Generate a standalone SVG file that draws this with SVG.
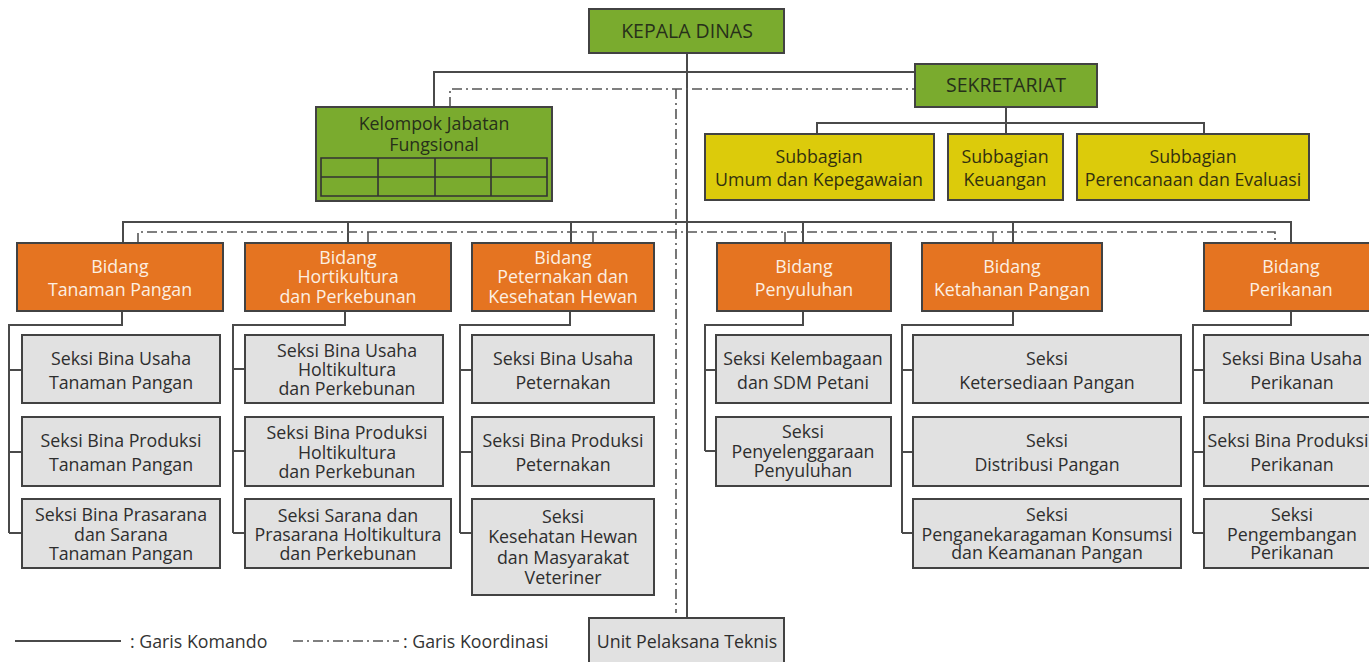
<svg xmlns="http://www.w3.org/2000/svg" width="1369" height="662" viewBox="0 0 1369 662">
<style>
.box{stroke:#424242;stroke-width:2}
.green{fill:#7aab2e}
.yellow{fill:#dccb0b}
.orange{fill:#e57421}
.gray{fill:#e1e1e1}
text{font-family:"Open Sans","Noto Sans","Liberation Sans",sans-serif;font-size:17.8px;text-anchor:middle}
.big{font-size:19.5px}
.td{fill:#27301a}
.ty{fill:#33310f}
.tw{fill:#fcefe2}
.tg{fill:#2e2e2e}
.ln{fill:none;stroke:#4a4a4a;stroke-width:2}
.dd{fill:none;stroke:#555;stroke-width:1.6;stroke-dasharray:10 4 2 4}
.tbl{fill:none;stroke:#333;stroke-width:1.6}
.lg{text-anchor:start;fill:#333}
</style>
<rect width="1369" height="662" fill="#ffffff"/>
<g id="connectors">
<path class="ln" d="M687 53V618M434 107V72H915M1006 107V123M817 134V123H1204V134M1006 123V134"/>
<path class="ln" d="M123 243V222H1291V243M348 222V243M571 222V243M803 222V243M1013 222V243"/>
<path class="ln" d="M122 311V325H9V533M9 370H22M9 452H22M9 533H22"/>
<path class="ln" d="M345 311V325H233V533M233 369H245M233 451H245M233 533H245"/>
<path class="ln" d="M570 311V325H460V533M460 370H472M460 452H472M460 533H472"/>
<path class="ln" d="M803 311V325H705V451M705 370H716M705 451H716"/>
<path class="ln" d="M1013 311V325H902V533M902 370H913M902 452H913M902 533H913"/>
<path class="ln" d="M1291 311V325H1193V533M1193 370H1204M1193 452H1204M1193 533H1204"/>
<path class="dd" d="M450 107V89H915"/>
<path class="dd" d="M676 89V613"/>
<path class="dd" d="M138 243V232H1275V243M368 232V243M593 232V243M785 232V243M993 232V243"/>
</g>
<g id="kepala-dinas"><rect class="box green" x="589" y="9" width="195" height="44"/><text class="td big" x="687" y="38">KEPALA DINAS</text></g>
<g id="sekretariat"><rect class="box green" x="915" y="64" width="182" height="43"/><text class="td big" x="1006" y="92">SEKRETARIAT</text></g>
<g id="kelompok-jabatan"><rect class="box green" x="316" y="107" width="236" height="94"/><text class="td" x="434" y="130">Kelompok Jabatan</text><text class="td" x="434" y="151">Fungsional</text>
<path class="tbl" d="M321 158H547V196H321ZM321 177H547M378 158V196M435 158V196M491 158V196"/></g>
<g id="sub-umum"><rect class="box yellow" x="705" y="134" width="229" height="66"/><text class="ty" x="819" y="163">Subbagian</text><text class="ty" x="819" y="186">Umum dan Kepegawaian</text></g>
<g id="sub-keuangan"><rect class="box yellow" x="948" y="134" width="115" height="66"/><text class="ty" x="1005" y="163">Subbagian</text><text class="ty" x="1005" y="186">Keuangan</text></g>
<g id="sub-perencanaan"><rect class="box yellow" x="1077" y="134" width="232" height="66"/><text class="ty" x="1193" y="163">Subbagian</text><text class="ty" x="1193" y="186">Perencanaan dan Evaluasi</text></g>
<g id="bidang-tanaman"><rect class="box orange" x="17" y="243" width="206" height="68"/><text class="tw" x="120" y="273">Bidang</text><text class="tw" x="120" y="296">Tanaman Pangan</text></g>
<g id="bidang-hortikultura"><rect class="box orange" x="245" y="243" width="206" height="68"/><text class="tw" x="348" y="264">Bidang</text><text class="tw" x="348" y="283">Hortikultura</text><text class="tw" x="348" y="303">dan Perkebunan</text></g>
<g id="bidang-peternakan"><rect class="box orange" x="472" y="243" width="182" height="68"/><text class="tw" x="563" y="264">Bidang</text><text class="tw" x="563" y="283">Peternakan dan</text><text class="tw" x="563" y="303">Kesehatan Hewan</text></g>
<g id="bidang-penyuluhan"><rect class="box orange" x="717" y="243" width="174" height="68"/><text class="tw" x="804" y="273">Bidang</text><text class="tw" x="804" y="296">Penyuluhan</text></g>
<g id="bidang-ketahanan"><rect class="box orange" x="922" y="243" width="180" height="68"/><text class="tw" x="1012" y="273">Bidang</text><text class="tw" x="1012" y="296">Ketahanan Pangan</text></g>
<g id="bidang-perikanan"><rect class="box orange" x="1204" y="243" width="176" height="68"/><text class="tw" x="1291" y="273">Bidang</text><text class="tw" x="1291" y="296">Perikanan</text></g>
<g id="seksi-1-1"><rect class="box gray" x="22" y="335" width="198" height="68"/><text class="tg" x="121" y="365">Seksi Bina Usaha</text><text class="tg" x="121" y="389">Tanaman Pangan</text></g>
<g id="seksi-1-2"><rect class="box gray" x="22" y="417" width="198" height="69"/><text class="tg" x="121" y="447">Seksi Bina Produksi</text><text class="tg" x="121" y="471">Tanaman Pangan</text></g>
<g id="seksi-1-3"><rect class="box gray" x="22" y="499" width="198" height="69"/><text class="tg" x="121" y="521">Seksi Bina Prasarana</text><text class="tg" x="121" y="541">dan Sarana</text><text class="tg" x="121" y="560">Tanaman Pangan</text></g>
<g id="seksi-2-1"><rect class="box gray" x="245" y="335" width="198" height="68"/><text class="tg" x="347" y="357">Seksi Bina Usaha</text><text class="tg" x="347" y="376">Holtikultura</text><text class="tg" x="347" y="395">dan Perkebunan</text></g>
<g id="seksi-2-2"><rect class="box gray" x="245" y="417" width="198" height="69"/><text class="tg" x="347" y="439">Seksi Bina Produksi</text><text class="tg" x="347" y="459">Holtikultura</text><text class="tg" x="347" y="478">dan Perkebunan</text></g>
<g id="seksi-2-3"><rect class="box gray" x="245" y="499" width="206" height="69"/><text class="tg" x="348" y="522">Seksi Sarana dan</text><text class="tg" x="348" y="541">Prasarana Holtikultura</text><text class="tg" x="348" y="560">dan Perkebunan</text></g>
<g id="seksi-3-1"><rect class="box gray" x="472" y="335" width="182" height="68"/><text class="tg" x="563" y="365">Seksi Bina Usaha</text><text class="tg" x="563" y="389">Peternakan</text></g>
<g id="seksi-3-2"><rect class="box gray" x="472" y="417" width="182" height="69"/><text class="tg" x="563" y="447">Seksi Bina Produksi</text><text class="tg" x="563" y="471">Peternakan</text></g>
<g id="seksi-3-3"><rect class="box gray" x="472" y="499" width="182" height="96"/><text class="tg" x="563" y="523">Seksi</text><text class="tg" x="563" y="543">Kesehatan Hewan</text><text class="tg" x="563" y="564">dan Masyarakat</text><text class="tg" x="563" y="584">Veteriner</text></g>
<g id="seksi-4-1"><rect class="box gray" x="716" y="335" width="175" height="68"/><text class="tg" x="803" y="365">Seksi Kelembagaan</text><text class="tg" x="803" y="389">dan SDM Petani</text></g>
<g id="seksi-4-2"><rect class="box gray" x="716" y="417" width="175" height="69"/><text class="tg" x="803" y="438">Seksi</text><text class="tg" x="803" y="458">Penyelenggaraan</text><text class="tg" x="803" y="477">Penyuluhan</text></g>
<g id="seksi-5-1"><rect class="box gray" x="913" y="335" width="268" height="68"/><text class="tg" x="1047" y="365">Seksi</text><text class="tg" x="1047" y="389">Ketersediaan Pangan</text></g>
<g id="seksi-5-2"><rect class="box gray" x="913" y="417" width="268" height="69"/><text class="tg" x="1047" y="447">Seksi</text><text class="tg" x="1047" y="471">Distribusi Pangan</text></g>
<g id="seksi-5-3"><rect class="box gray" x="913" y="499" width="268" height="69"/><text class="tg" x="1047" y="521">Seksi</text><text class="tg" x="1047" y="541">Penganekaragaman Konsumsi</text><text class="tg" x="1047" y="559">dan Keamanan Pangan</text></g>
<g id="seksi-6-1"><rect class="box gray" x="1204" y="335" width="176" height="68"/><text class="tg" x="1292" y="365">Seksi Bina Usaha</text><text class="tg" x="1292" y="389">Perikanan</text></g>
<g id="seksi-6-2"><rect class="box gray" x="1204" y="417" width="176" height="69"/><text class="tg" x="1288" y="447">Seksi Bina Produksi</text><text class="tg" x="1292" y="471">Perikanan</text></g>
<g id="seksi-6-3"><rect class="box gray" x="1204" y="499" width="176" height="69"/><text class="tg" x="1292" y="521">Seksi</text><text class="tg" x="1292" y="541">Pengembangan</text><text class="tg" x="1292" y="559">Perikanan</text></g>
<g id="unit-pelaksana"><rect class="box gray" x="589" y="618" width="195" height="52"/><text class="tg" x="687" y="648">Unit Pelaksana Teknis</text></g>
<g id="legend">
<path class="ln" d="M15 641H121"/><text class="lg" x="130" y="648">: Garis Komando</text>
<path class="dd" d="M293 641H399"/><text class="lg" x="403" y="648">: Garis Koordinasi</text>
</g>
</svg>
